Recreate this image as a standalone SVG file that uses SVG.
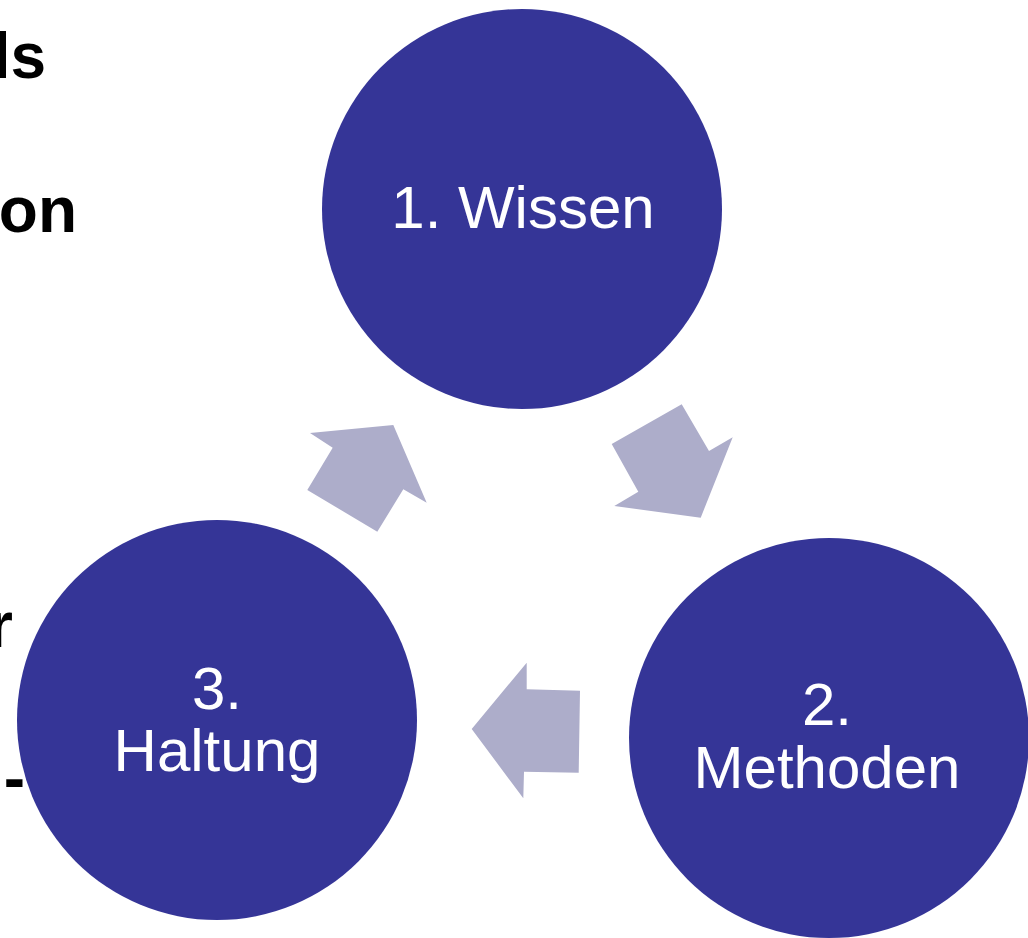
<svg xmlns="http://www.w3.org/2000/svg" width="1028" height="938" viewBox="0 0 1028 938">
  <style>
    .node { fill: #353597; }
    .lbl { fill: #ffffff; font-family: "Liberation Sans", Arial, sans-serif; font-size: 60px; text-anchor: middle; }
    .arrow { fill: #adadca; }
    .side { fill: #000000; font-family: "Liberation Sans", Arial, sans-serif; font-weight: bold; font-size: 64px; text-anchor: end; }
  </style>
  <rect width="1028" height="938" fill="#ffffff"/>
  <g id="side-text">
    <text class="side" x="46" y="78">ls</text>
    <text class="side" x="77" y="232">on</text>
    <text class="side" x="13" y="647">r</text>
    <text class="side" x="25" y="800">-</text>
  </g>
  <g id="connectors">
    <polygon class="arrow" points="310,433 393.3,425 426.7,502.7 403.3,489.3 377.3,531.7 307.3,490 332.7,447.7"/>
    <polygon class="arrow" points="611.7,444 681.7,404.3 709,451 732.7,437.3 700.7,517.7 614.3,506 638.3,491.7"/>
    <polygon class="arrow" points="526.7,662.7 526.7,689.3 580,690.7 578.7,772.7 524,771.7 523.3,798.3 471.7,729"/>
  </g>
  <g id="node-wissen">
    <circle class="node" cx="522" cy="209" r="200"/>
    <text class="lbl" x="523" y="228">1. Wissen</text>
  </g>
  <g id="node-methoden">
    <circle class="node" cx="829" cy="738" r="200"/>
    <text class="lbl" x="827" y="725">2.</text>
    <text class="lbl" x="827" y="788">Methoden</text>
  </g>
  <g id="node-haltung">
    <circle class="node" cx="217" cy="720" r="200"/>
    <text class="lbl" x="217" y="709">3.</text>
    <text class="lbl" x="217" y="771">Haltung</text>
  </g>
</svg>
